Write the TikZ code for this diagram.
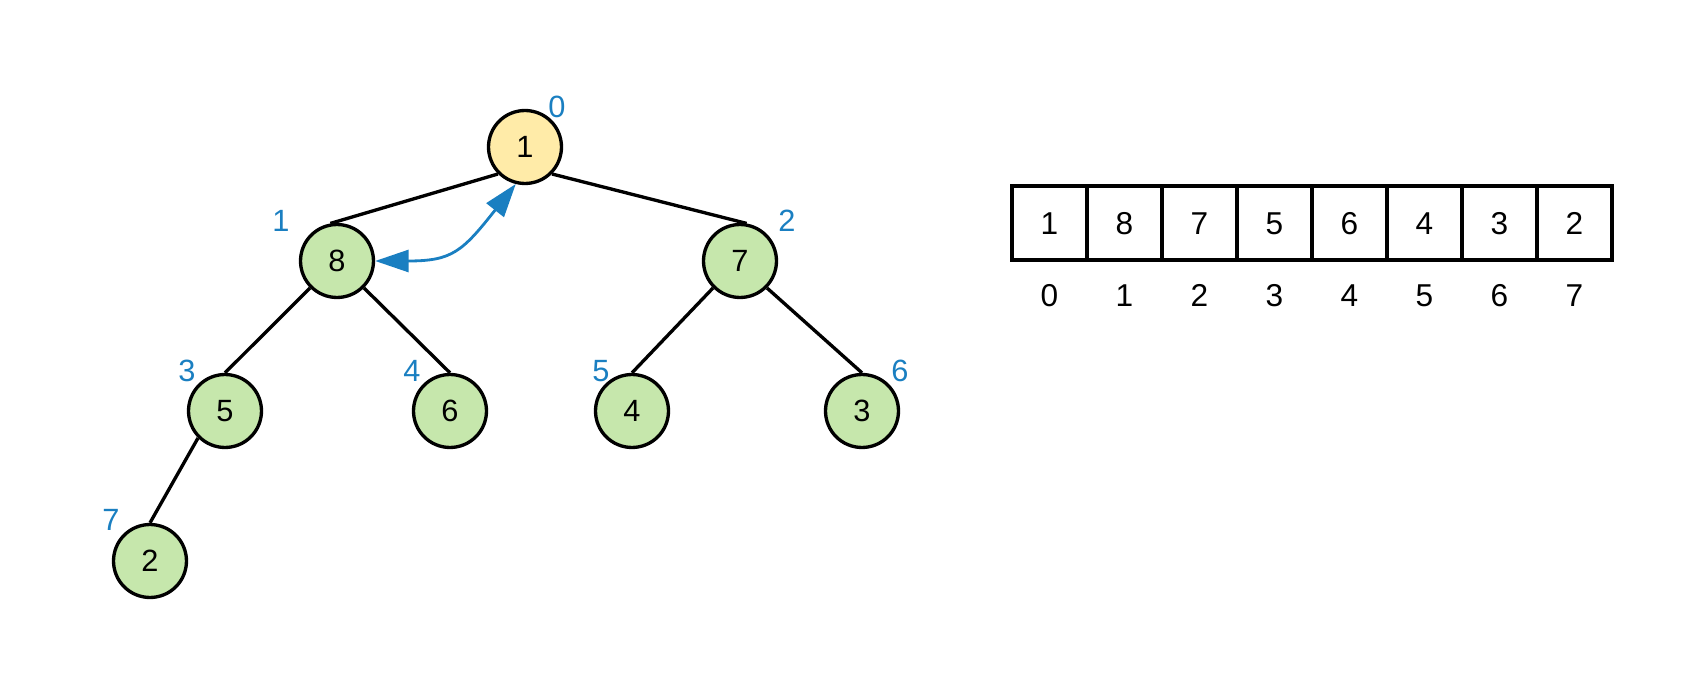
\documentclass[tikz,border=0pt]{standalone}
\usepackage{fontspec}
\setmainfont{Liberation Sans}
\usetikzlibrary{arrows.meta,positioning}
\definecolor{heapgreen}{HTML}{C6E7AC}
\definecolor{heapyellow}{HTML}{FFEBA8}
\definecolor{heapblue}{HTML}{1A7FC1}

\begin{document}
\begin{tikzpicture}[
  x=0.02cm, y=-0.02cm,
  heapnode/.style={
    circle, draw=black, line width=1.9pt, fill=heapgreen,
    minimum size=1.46cm, inner sep=0pt,
    text height=12.5pt, text depth=0pt,
    font=\fontsize{17.5}{18}\selectfont
  },
  rootnode/.style={heapnode, fill=heapyellow},
  idxlabel/.style={font=\fontsize{17.5}{18}\selectfont, text=heapblue,
    text height=12.5pt, text depth=0pt},
  cellbox/.style={
    draw=black, line width=1.9pt,
    minimum width=1.5cm, minimum height=1.48cm, inner sep=0pt,
    text height=12.9pt, text depth=0pt,
    font=\fontsize{18}{18}\selectfont
  },
  cellidx/.style={font=\fontsize{18}{18}\selectfont,
    text height=12.9pt, text depth=0pt},
  treeedge/.style={line width=1.9pt},
  swaparrow/.style={line width=1.6pt, heapblue,
    {Triangle[length=19pt, width=12.5pt]}-{Triangle[length=19pt, width=12.5pt]}}
]
\useasboundingbox (0,0) rectangle (1688,675);

% TREE
\node[rootnode] (n0) at (525,147) {1};
\node[heapnode] (n1) at (337,261) {8};
\node[heapnode] (n2) at (740,261) {7};
\node[heapnode] (n3) at (225,411) {5};
\node[heapnode] (n4) at (450,411) {6};
\node[heapnode] (n5) at (632,411) {4};
\node[heapnode] (n6) at (862,411) {3};
\node[heapnode] (n7) at (150,561) {2};

\draw[treeedge] (n0.south west) -- (n1.100);
\draw[treeedge] (n0.south east) -- (n2.80);
\draw[treeedge] (n1.south west) -- (n3.north);
\draw[treeedge] (n1.south east) -- (n4.north);
\draw[treeedge] (n2.south west) -- (n5.north);
\draw[treeedge] (n2.south east) -- (n6.north);
\draw[treeedge] (n3.south west) -- (n7.north);

% indices
\node[idxlabel] (l0) at (557,107) {0};
\node[idxlabel] (l1) at (281,221) {1};
\node[idxlabel] (l2) at (787,221) {2};
\node[idxlabel] (l3) at (187,371) {3};
\node[idxlabel] (l4) at (412,371) {4};
\node[idxlabel] (l5) at (601,371) {5};
\node[idxlabel] (l6) at (900,371) {6};
\node[idxlabel] (l7) at (111,520) {7};

% swap
\draw[swaparrow] (n1.east) .. controls (452,261) and (462,252) .. (n0.-104);

% ARRAY
\foreach \v [count=\i from 0] in {1,8,7,5,6,4,3,2} {
  \node[cellbox] (c\i) at (1049.5+75*\i,223) {\v};
  \node[cellidx] (a\i) at (1049.5+75*\i,295) {\i};
}

\end{tikzpicture}
\end{document}
